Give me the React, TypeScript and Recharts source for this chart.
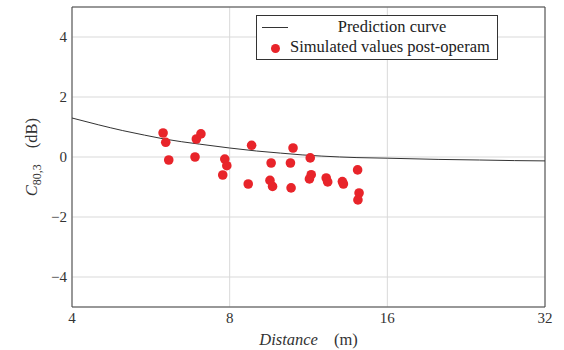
import React from 'react';
import { ComposedChart, Line, Scatter, XAxis, YAxis, CartesianGrid, ReferenceArea } from 'recharts';

const curveDistance = [4, 4.5, 5, 5.5, 6, 7, 8, 9, 10, 11, 12, 14, 16, 20, 24, 28, 32];
const curveValue = [1.3, 1.07, 0.88, 0.73, 0.6, 0.43, 0.3, 0.2, 0.13, 0.07, 0.03, -0.02, -0.04, -0.08, -0.1, -0.12, -0.13];

const simDistance = [5.97, 6.04, 6.12, 6.87, 6.91, 7.05, 7.83, 7.9, 7.76, 8.68, 8.81, 9.55, 9.6, 9.66, 10.45, 10.48, 10.57, 11.4, 11.45, 11.36, 12.23, 12.31, 13.13, 13.19, 14.04, 14.13, 14.06];
const simValue = [0.8, 0.49, -0.1, 0.0, 0.6, 0.77, -0.07, -0.29, -0.6, -0.9, 0.39, -0.78, -0.2, -0.98, -0.2, -1.03, 0.3, -0.03, -0.59, -0.73, -0.7, -0.83, -0.82, -0.9, -0.43, -1.2, -1.43];

const xTicks = [4, 8, 16, 32];
const yTicks = [-4, -2, 0, 2, 4];

const curveData = curveDistance.map((d, i) => ({ d, v: curveValue[i] }));
const simData = simDistance.map((d, i) => ({ d, v: simValue[i] }));

const FONT = '"Liberation Serif", "DejaVu Serif", serif';
const RED = '#e8242a';

const fmt = (v: number) => String(v).replace('-', '\u2212');

const LegendBox = () => (
  <div style={{ position: 'absolute', left: 256, top: 15, border: '1px solid #333', width: 242, height: 45, background: '#fff', fontFamily: FONT, fontSize: 16.5, color: '#222', boxSizing: 'border-box' }}>
    <div style={{ position: 'absolute', left: 5, top: 11, width: 26, borderTop: '1px solid #333' }} />
    <div style={{ position: 'absolute', left: 0, right: 0, top: 1, textAlign: 'center', paddingLeft: 30, lineHeight: '20px' }}>Prediction curve</div>
    <div style={{ position: 'absolute', left: 14, top: 28, width: 9, height: 9, borderRadius: 5, background: RED }} />
    <div style={{ position: 'absolute', left: 33, top: 21, whiteSpace: 'nowrap', lineHeight: '20px' }}>Simulated values post-operam</div>
  </div>
);

export default function App() {
  return (
    <div style={{ position: 'absolute', left: 0, top: 0, width: 564, height: 350, background: '#fff' }}>
      <ComposedChart width={564} height={350} margin={{ top: 7, right: 19, bottom: 0, left: 0 }}>
        <CartesianGrid stroke="#d9d9d9" strokeWidth={1} />
        <XAxis
          dataKey="d"
          type="number"
          scale="log"
          domain={[4, 32]}
          ticks={xTicks}
          allowDataOverflow
          height={43}
          axisLine={false}
          tickLine={false}
          tickSize={0}
          tick={{ fontFamily: FONT, fontSize: 15, fill: '#333' }}
          tickMargin={5}
          label={(props: any) => {
            const vb = props.viewBox;
            return (
              <text x={vb.x + vb.width / 2} y={vb.y + 38} textAnchor="middle" fontFamily={FONT} fontSize={16.5} fill="#333">
                <tspan fontStyle="italic">Distance</tspan>
                <tspan dx={16}>(m)</tspan>
              </text>
            );
          }}
        />
        <YAxis
          dataKey="v"
          type="number"
          domain={[-5, 5]}
          ticks={yTicks}
          allowDataOverflow
          width={72}
          axisLine={false}
          tickLine={false}
          tickSize={0}
          tickFormatter={fmt}
          tick={{ fontFamily: FONT, fontSize: 15, fill: '#333' }}
          tickMargin={5}
          label={(props: any) => {
            const vb = props.viewBox;
            const cx = 37;
            const cy = vb.y + vb.height / 2;
            return (
              <text x={cx} y={cy} textAnchor="middle" transform={`rotate(-90 ${cx} ${cy})`} fontFamily={FONT} fontSize={16.5} fill="#333">
                <tspan fontStyle="italic">C</tspan>
                <tspan fontSize={12} dy={4}>80,3</tspan>
                <tspan dy={-4} dx={16}>(dB)</tspan>
              </text>
            );
          }}
        />
        <ReferenceArea x1={4} x2={32} y1={-5} y2={5} fill="none" stroke="#444" strokeWidth={1} ifOverflow="visible" />
        <Line data={curveData} dataKey="v" type="monotone" stroke="#333" strokeWidth={1} dot={false} isAnimationActive={false} />
        <Scatter data={simData} dataKey="v" fill={RED} shape={(p: any) => <circle cx={p.cx} cy={p.cy} r={4.8} fill={RED} />} isAnimationActive={false} />
      </ComposedChart>
      <LegendBox />
    </div>
  );
}
